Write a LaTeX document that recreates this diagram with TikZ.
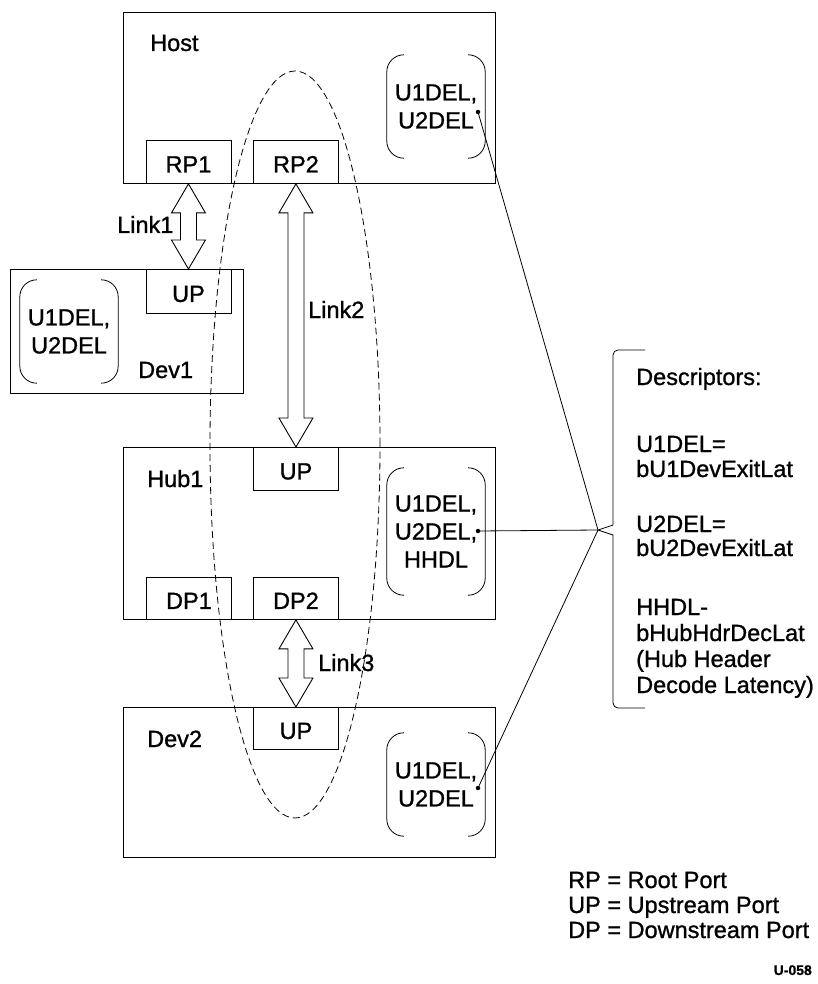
\documentclass[tikz,border=0pt]{standalone}
\usepackage{fontspec}
\setmainfont{Liberation Sans}[FakeBold=0.8]
\newfontfamily\heavyfont{Liberation Sans}[FakeBold=1.0]
\usetikzlibrary{calc}
\tikzset{
  box/.style={draw, line width=0.9pt, inner sep=0pt, anchor=north west},
  port/.style={draw, line width=0.9pt, inner sep=0pt, minimum width=85pt, minimum height=43pt,
    anchor=north west, text height=21pt, text depth=0pt, font=\heavyfont\fontsize{23.5}{28}\selectfont},
  lbl/.style={inner sep=0pt, anchor=base west, font=\heavyfont\fontsize{23.5}{28}\selectfont},
  del/.style={inner sep=0pt, align=center, minimum width=98pt, font=\heavyfont\fontsize{23.5}{28}\selectfont},
  dot/.style={circle, fill, inner sep=0pt, minimum size=4.5pt},
  thinline/.style={line width=0.8pt},
  linkarr/.style={draw, fill=white, line width=0.9pt, line join=miter},
  grp/.style={dashed, dash pattern=on 7pt off 4pt, line width=0.8pt},
}
\newcommand{\delparens}[1]{%
  \draw[thinline, rounded corners=17pt] ([xshift=17pt]#1.north west) -- (#1.north west) -- (#1.south west) -- ([xshift=17pt]#1.south west);
  \draw[thinline, rounded corners=17pt] ([xshift=-17pt]#1.north east) -- (#1.north east) -- (#1.south east) -- ([xshift=-17pt]#1.south east);}
\newcommand{\linkarrow}[2]{%
  \draw[linkarr] let \p1=(#1), \p2=(#2) in
    (\x1,\y1) -- (\x1+17pt,\y1-29pt) -- (\x1+8pt,\y1-29pt) -- (\x1+8pt,\y2+29pt) -- (\x1+17pt,\y2+29pt)
    -- (\x1,\y2) -- (\x1-17pt,\y2+29pt) -- (\x1-8pt,\y2+29pt) -- (\x1-8pt,\y1-29pt) -- (\x1-17pt,\y1-29pt) -- cycle;}
\begin{document}
\begin{tikzpicture}[x=1pt, y=-1pt]
\useasboundingbox (0,0) rectangle (817,984);

% dashed group ellipse
\draw[grp] (295,444.5) ellipse [x radius=85pt, y radius=373.5pt];

% main boxes
\node[box, minimum width=372pt, minimum height=171pt] (host) at (123,12) {};
\node[box, minimum width=233pt, minimum height=124pt] (dev1) at (10,269) {};
\node[box, minimum width=372pt, minimum height=172pt] (hub) at (123,447) {};
\node[box, minimum width=372pt, minimum height=150pt] (dev2) at (123,707) {};

% ports
\node[port] (rp1) at (145.5,140) {RP1};
\node[port] (rp2) at (253,140) {RP2};
\node[port, minimum height=44pt] (d1up) at (145.5,269) {UP};
\node[port] (hubup) at (253,447) {UP};
\node[port, minimum height=42pt] (dp1) at (146,577) {DP1};
\node[port, minimum height=42pt] (dp2) at (253,577) {DP2};
\node[port, minimum height=42pt] (d2up) at (253,707) {UP};

% box labels
\node[lbl] (hostlbl) at (150,51) {Host};
\node[lbl] (dev1lbl) at (138,378) {Dev1};
\node[lbl] (hublbl) at (147,487) {Hub1};
\node[lbl] (dev2lbl) at (147,747) {Dev2};

% descriptor groups
\node[del, minimum height=103pt] (hostdel) at (436,106.5) {U1DEL,\\U2DEL};
\node[del, minimum height=103pt] (dev1del) at (69,331.5) {U1DEL,\\U2DEL};
\node[del, minimum height=127pt] (hubdel) at (436,531.5) {U1DEL,\\U2DEL,\\HHDL};
\node[del, minimum height=103pt] (dev2del) at (436,784.5) {U1DEL,\\U2DEL};
\delparens{hostdel}
\delparens{dev1del}
\delparens{hubdel}
\delparens{dev2del}

% links
\linkarrow{rp1.south}{d1up.north}
\linkarrow{rp2.south}{hubup.north}
\linkarrow{dp2.south}{d2up.north}
\node[lbl] (link1) at (117,233) {Link1};
\node[lbl] (link2) at (308,318) {Link2};
\node[lbl] (link3) at (318,671) {Link3};

% dots and leader lines
\node[dot] (hostdot) at (478,112) {};
\node[dot] (hubdot) at (478,531) {};
\node[dot] (dev2dot) at (478,788) {};
\coordinate (bracetip) at (598,530);
\draw[thinline] (hostdot.center) -- (bracetip);
\draw[thinline] (hubdot.center) -- (bracetip);
\draw[thinline] (dev2dot.center) -- (bracetip);

% brace
\draw[thinline, rounded corners=5pt] (645,350) -- (613,350) -- (613,480) [sharp corners] -- (613,525) -- (bracetip) -- (613,535) -- (613,660) [rounded corners=5pt] -- (613,708) -- (645,708);

% descriptor text
\node[lbl] (desc) at (636,385) {Descriptors:};
\node[lbl] (d1a) at (636,452) {U1DEL=};
\node[lbl] (d1b) at (636,477) {bU1DevExitLat};
\node[lbl] (d2a) at (636,532) {U2DEL=};
\node[lbl] (d2b) at (636,556) {bU2DevExitLat};
\node[lbl] (d3a) at (636,615) {HHDL-};
\node[lbl] (d3b) at (636,641) {bHubHdrDecLat};
\node[lbl] (d3c) at (636,667) {(Hub Header};
\node[lbl] (d3d) at (636,693) {Decode Latency)};

% legend
\node[lbl] (leg1) at (568,888) {RP = Root Port};
\node[lbl] (leg2) at (568,913) {UP = Upstream Port};
\node[lbl] (leg3) at (568,938) {DP = Downstream Port};
\node[inner sep=0pt, anchor=base east, font=\bfseries\fontsize{14}{16}\selectfont] (fig) at (812,975) {U-058};
\end{tikzpicture}
\end{document}
